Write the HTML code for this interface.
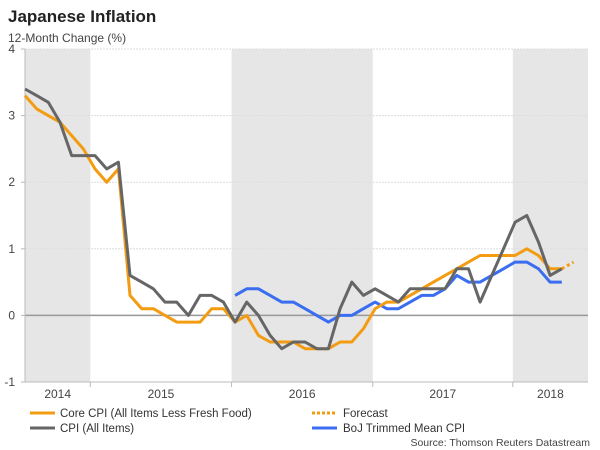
<!DOCTYPE html>
<html><head><meta charset="utf-8"><style>
body{margin:0;background:#fff;}
svg{display:block;font-family:"Liberation Sans",Arial,sans-serif;}
</style></head><body>
<svg width="600" height="450" id="chart">
<text x="8" y="22" font-size="17" font-weight="bold" fill="#222">Japanese Inflation</text>
<text x="8" y="42" font-size="12" fill="#444">12-Month Change (%)</text>
<g id="bands"></g><g id="grid"></g><g id="axes"></g><g id="series"></g>
<g font-size="11.5" fill="#333">
<g><line x1="30" y1="413" x2="55" y2="413" stroke="#f39c12" stroke-width="3"/><text x="60" y="417">Core CPI (All Items Less Fresh Food)</text></g>
<g><line x1="312" y1="413" x2="337" y2="413" stroke="#f39c12" stroke-width="3" stroke-dasharray="3,2"/><text x="343" y="417">Forecast</text></g>
<g><line x1="30" y1="428" x2="55" y2="428" stroke="#666" stroke-width="3"/><text x="60" y="432">CPI (All Items)</text></g>
<g><line x1="312" y1="428" x2="337" y2="428" stroke="#3a6df0" stroke-width="3"/><text x="343" y="432">BoJ Trimmed Mean CPI</text></g>
</g>
<text x="590" y="446" font-size="10.5" fill="#444" text-anchor="end">Source: Thomson Reuters Datastream</text>
</svg>
<script>
const yTicks=[4,3,2,1,0,-1];
const years=["2014","2015","2016","2017","2018"];
const core=[3.3,3.1,3.0,2.9,2.7,2.5,2.2,2.0,2.2,0.3,0.1,0.1,0.0,-0.1,-0.1,-0.1,0.1,0.1,-0.1,0.0,-0.3,-0.4,-0.4,-0.4,-0.5,-0.5,-0.5,-0.4,-0.4,-0.2,0.1,0.2,0.2,0.3,0.4,0.5,0.6,0.7,0.8,0.9,0.9,0.9,0.9,1.0,0.9,0.7,0.7];
const cpi=[3.4,3.3,3.2,2.9,2.4,2.4,2.4,2.2,2.3,0.6,0.5,0.4,0.2,0.2,0.0,0.3,0.3,0.2,-0.1,0.2,0.0,-0.3,-0.5,-0.4,-0.4,-0.5,-0.5,0.1,0.5,0.3,0.4,0.3,0.2,0.4,0.4,0.4,0.4,0.7,0.7,0.2,0.6,1.0,1.4,1.5,1.1,0.6,0.7];
const bojStart=18;
const boj=[0.3,0.4,0.4,0.3,0.2,0.2,0.1,0.0,-0.1,0.0,0.0,0.1,0.2,0.1,0.1,0.2,0.3,0.3,0.4,0.6,0.5,0.5,0.6,0.7,0.8,0.8,0.7,0.5,0.5];
const forecastStart=46;
const forecast=[0.7,0.8];
// year boundaries in month index (relative to first point = Jul 2014 approx)
const yearStarts=[-0.3,5.6,17.7,29.8,41.8,48.3];

const NS="http://www.w3.org/2000/svg";
const L=25,R=588,T=49,B=382,step=11.67;
const X=i=>L+i*step;
const Y=v=>T+(4-v)*(B-T)/5;
function mk(tag,attrs,parent){const e=document.createElementNS(NS,tag);for(const k in attrs)e.setAttribute(k,attrs[k]);parent.appendChild(e);return e;}
const bands=document.getElementById('bands'),grid=document.getElementById('grid'),axes=document.getElementById('axes'),series=document.getElementById('series');
years.forEach((yr,k)=>{
  const x0=Math.max(L,X(yearStarts[k])),x1=Math.min(R,X(yearStarts[k+1]));
  if(k%2===0){const r=mk('rect',{x:x0,y:T,width:x1-x0,height:B-T,fill:'#e6e6e6'},bands);
  
  }
  const t=mk('text',{x:(x0+x1)/2,y:398,'font-size':12,fill:'#444','text-anchor':'middle'},axes);t.textContent=yr;
  
  
  if(k>0){const tk=mk('line',{x1:x0,y1:B,x2:x0,y2:B+5,stroke:'#bbb'},axes);
  
  }
});
yTicks.forEach(v=>{
  const y=Y(v);
  const g=mk('line',{x1:L,y1:y,x2:R,y2:y,stroke:v===0?'#999':'#ddd','stroke-width':v===0?1.5:1,'stroke-dasharray':v===0?'':'2,1'},grid);
  
  
  const t=mk('text',{x:15,y:y+4,'font-size':12,fill:'#444','text-anchor':'end'},axes);t.textContent=v;
  
  
  const tk=mk('line',{x1:L-4,y1:y,x2:L,y2:y,stroke:'#bbb'},axes);
  
  
});
const ax=mk('line',{x1:L,y1:T,x2:L,y2:B,stroke:'#bbb'},axes);


const bx=mk('line',{x1:L,y1:B,x2:R,y2:B,stroke:'#bbb'},axes);


function line(arr,start,color,name,dash){
  const d=arr.map((v,i)=>(i?'L':'M')+X(start+i).toFixed(1)+','+Y(v).toFixed(1)).join('');
  const p=mk('path',{d:d,fill:'none',stroke:color,'stroke-width':3,'stroke-linejoin':'round'},series);
  if(dash)p.setAttribute('stroke-dasharray',dash);
  
  
}
line(boj,bojStart,'#3a6df0','boj-trimmed-mean-line');
line(core,0,'#f39c12','core-cpi-line');
line(forecast,forecastStart,'#f39c12','forecast-line','3,3');
line(cpi,0,'#666','cpi-line');
</script>
</body></html>
